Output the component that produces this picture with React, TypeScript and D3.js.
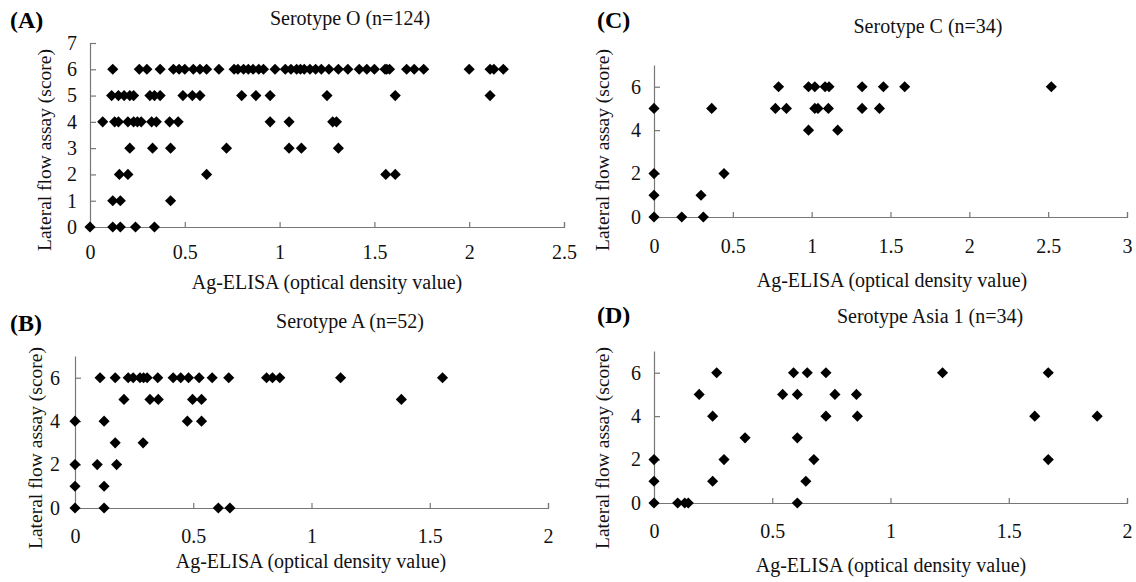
import * as d3 from 'd3';
import React, { useEffect, useRef } from 'react';

// [Ag-ELISA OD, lateral flow score]
const serotypeO: [number, number][] = [
  [0.12, 6], [0.26, 6], [0.30, 6], [0.37, 6], [0.44, 6], [0.47, 6], [0.50, 6], [0.545, 6], [0.58, 6], [0.615, 6],
  [0.68, 6], [0.76, 6], [0.78, 6], [0.81, 6], [0.835, 6], [0.86, 6], [0.89, 6], [0.915, 6], [0.976, 6], [1.03, 6],
  [1.06, 6], [1.09, 6], [1.11, 6], [1.13, 6], [1.16, 6], [1.19, 6], [1.22, 6], [1.26, 6], [1.31, 6], [1.36, 6],
  [1.42, 6], [1.46, 6], [1.50, 6], [1.556, 6], [1.565, 6], [1.58, 6], [1.67, 6], [1.71, 6], [1.76, 6], [2.0, 6],
  [2.11, 6], [2.13, 6], [2.18, 6],
  [0.114, 5], [0.15, 5], [0.18, 5], [0.21, 5], [0.23, 5], [0.316, 5], [0.34, 5], [0.37, 5], [0.49, 5], [0.54, 5],
  [0.58, 5], [0.80, 5], [0.875, 5], [0.95, 5], [1.25, 5], [1.61, 5], [2.11, 5],
  [0.067, 4], [0.13, 4], [0.15, 4], [0.20, 4], [0.23, 4], [0.25, 4], [0.27, 4], [0.325, 4], [0.35, 4], [0.42, 4],
  [0.465, 4], [0.95, 4], [1.05, 4], [1.28, 4], [1.30, 4],
  [0.21, 3], [0.33, 3], [0.425, 3], [0.72, 3], [1.05, 3], [1.115, 3], [1.31, 3],
  [0.155, 2], [0.20, 2], [0.615, 2], [1.56, 2], [1.61, 2],
  [0.12, 1], [0.16, 1], [0.425, 1],
  [0, 0], [0.12, 0], [0.16, 0], [0.24, 0], [0.34, 0],
];

const serotypeA: [number, number][] = [
  [0.106, 6], [0.17, 6], [0.225, 6], [0.246, 6], [0.275, 6], [0.29, 6], [0.305, 6], [0.35, 6], [0.415, 6], [0.447, 6],
  [0.48, 6], [0.525, 6], [0.58, 6], [0.65, 6], [0.81, 6], [0.835, 6], [0.866, 6], [1.123, 6], [1.554, 6],
  [0.207, 5], [0.317, 5], [0.352, 5], [0.497, 5], [0.535, 5], [1.38, 5],
  [0, 4], [0.123, 4], [0.475, 4], [0.535, 4],
  [0.17, 3], [0.288, 3],
  [0, 2], [0.094, 2], [0.176, 2],
  [0, 1], [0.123, 1],
  [0, 0], [0.123, 0], [0.606, 0], [0.655, 0],
];

const serotypeC: [number, number][] = [
  [0.79, 6], [0.98, 6], [1.02, 6], [1.085, 6], [1.11, 6], [1.32, 6], [1.455, 6], [1.59, 6], [2.52, 6],
  [0, 5], [0.366, 5], [0.77, 5], [0.84, 5], [1.02, 5], [1.04, 5], [1.106, 5], [1.32, 5], [1.43, 5],
  [0.98, 4], [1.165, 4],
  [0, 2], [0.444, 2],
  [0, 1], [0.298, 1],
  [0, 0], [0.176, 0], [0.313, 0],
];

const serotypeAsia1: [number, number][] = [
  [0.265, 6], [0.59, 6], [0.648, 6], [0.727, 6], [1.22, 6], [1.667, 6],
  [0.191, 5], [0.544, 5], [0.606, 5], [0.765, 5], [0.856, 5],
  [0.248, 4], [0.727, 4], [0.86, 4], [1.61, 4], [1.874, 4],
  [0.385, 3], [0.606, 3],
  [0, 2], [0.296, 2], [0.676, 2], [1.667, 2],
  [0, 1], [0.248, 1], [0.642, 1],
  [0, 0], [0.10, 0], [0.13, 0], [0.145, 0], [0.606, 0],
];

const ticksX25 = [0, 0.5, 1, 1.5, 2, 2.5];
const ticksX2 = [0, 0.5, 1, 1.5, 2];
const ticksX3 = [0, 0.5, 1, 1.5, 2, 2.5, 3];
const ticksYAll = [0, 1, 2, 3, 4, 5, 6, 7];
const ticksYEven = [0, 2, 4, 6];

const xTitle = 'Ag-ELISA (optical density value)';
const yTitle = 'Lateral flow assay (score)';

const panels = [
  {
    tag: '(A)', title: 'Serotype O (n=124)', data: serotypeO, xMax: 2.5, xTicks: ticksX25, yTicks: ticksYAll, yOuter: 6,
    x0: 90, x1: 564, y0: 227, y1: 43,
    tagPos: [10, 28], titlePos: [350, 25], xLabPos: [327, 289], yLabPos: [51, 150], xPad: 18, yPad: 13,
  },
  {
    tag: '(B)', title: 'Serotype A (n=52)', data: serotypeA, xMax: 2, xTicks: ticksX2, yTicks: ticksYEven, yOuter: 0,
    x0: 75, x1: 548, y0: 508, y1: 356,
    tagPos: [10, 331], titlePos: [350, 328], xLabPos: [311, 568], yLabPos: [42, 448], xPad: 21, yPad: 15,
  },
  {
    tag: '(C)', title: 'Serotype C (n=34)', data: serotypeC, xMax: 3, xTicks: ticksX3, yTicks: ticksYEven, yOuter: 0,
    x0: 654, x1: 1127, y0: 217, y1: 65,
    tagPos: [597, 28], titlePos: [928, 33], xLabPos: [892, 287], yLabPos: [609, 150], xPad: 22, yPad: 13,
  },
  {
    tag: '(D)', title: 'Serotype Asia 1 (n=34)', data: serotypeAsia1, xMax: 2, xTicks: ticksX2, yTicks: ticksYEven, yOuter: 0,
    x0: 654, x1: 1127, y0: 503, y1: 351,
    tagPos: [597, 323], titlePos: [930, 323], xLabPos: [891, 572], yLabPos: [609, 448], xPad: 21, yPad: 13,
  },
];

const font = '"Liberation Serif", "Times New Roman", serif';
const axisColor = '#777';

export default function App() {
  const ref = useRef<SVGSVGElement>(null);

  useEffect(() => {
    const svg = d3.select(ref.current);
    svg.selectAll('*').remove();

    const marker = d3.symbol(d3.symbolSquare, 62)();

    panels.forEach(p => {
      const g = svg.append('g');
      const x = d3.scaleLinear().domain([0, p.xMax]).range([p.x0, p.x1]);
      const y = d3.scaleLinear().domain([0, 7]).range([p.y0, p.y1]);

      const xAxis = g.append('g')
        .attr('transform', `translate(0, ${p.y0})`)
        .call(
          d3.axisBottom(x)
            .tickValues(p.xTicks)
            .tickFormat(d => `${d}`)
            .tickSizeInner(-5)
            .tickSizeOuter(-5)
            .tickPadding(p.xPad)
        );

      const yAxis = g.append('g')
        .attr('transform', `translate(${p.x0}, 0)`)
        .call(
          d3.axisLeft(y)
            .tickValues(p.yTicks)
            .tickFormat(d => `${d}`)
            .tickSizeInner(-6)
            .tickSizeOuter(-p.yOuter)
            .tickPadding(p.yPad)
        );

      [xAxis, yAxis].forEach(a => {
        a.attr('font-family', font).attr('font-size', 20);
        a.selectAll('path, line').attr('stroke', axisColor).attr('stroke-width', 1.2);
        a.selectAll('text').attr('fill', '#111');
      });

      g.selectAll('path.pt')
        .data(p.data)
        .enter()
        .append('path')
        .attr('class', 'pt')
        .attr('d', marker)
        .attr('transform', d => `translate(${x(d[0])}, ${y(d[1])}) rotate(45)`)
        .attr('fill', '#000');

      g.append('text')
        .attr('x', p.tagPos[0])
        .attr('y', p.tagPos[1])
        .attr('font-family', font)
        .attr('font-weight', 'bold')
        .attr('font-size', 24)
        .text(p.tag);

      g.append('text')
        .attr('x', p.titlePos[0])
        .attr('y', p.titlePos[1])
        .attr('text-anchor', 'middle')
        .attr('font-family', font)
        .attr('font-size', 20)
        .attr('fill', '#111')
        .text(p.title);

      g.append('text')
        .attr('x', p.xLabPos[0])
        .attr('y', p.xLabPos[1])
        .attr('text-anchor', 'middle')
        .attr('font-family', font)
        .attr('font-size', 20)
        .attr('fill', '#111')
        .text(xTitle);

      g.append('text')
        .attr('transform', `translate(${p.yLabPos[0]}, ${p.yLabPos[1]}) rotate(-90)`)
        .attr('text-anchor', 'middle')
        .attr('font-family', font)
        .attr('font-size', 19.5)
        .attr('fill', '#111')
        .text(yTitle);
    });
  }, []);

  return (
    <svg
      ref={ref}
      width={1136}
      height={582}
      style={{ position: 'absolute', left: 0, top: 0, background: '#fff' }}
    />
  );
}
